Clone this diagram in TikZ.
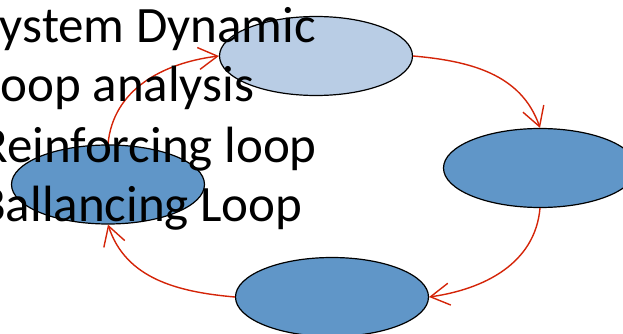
\documentclass[tikz,border=0pt]{standalone}
\usepackage{fontspec}
\setmainfont{Carlito}
\usetikzlibrary{shapes.geometric,arrows.meta}
\definecolor{lightfill}{RGB}{185,205,229}
\definecolor{midfill}{RGB}{96,150,200}
\definecolor{loopred}{RGB}{212,36,8}
\tikzset{
  state/.style={ellipse, draw=black, line width=1.2pt, minimum width=193pt, minimum height=79pt, inner sep=0pt},
  link/.style={draw=loopred, line width=1.4pt, -{Straight Barb[length=19pt,width=22pt,line width=1.4pt]}},
  bullettext/.style={anchor=base west, inner sep=0pt, font=\fontsize{51}{60}\selectfont}
}
\begin{document}
\begin{tikzpicture}[x=1pt,y=1pt]
\useasboundingbox (0,0) rectangle (623,-334);
\clip (0,0) rectangle (623,-334);
\node[state, fill=lightfill] (tp) at (316,-56) {};
\node[state, fill=midfill] (rt) at (540,-168) {};
\node[state, fill=midfill] (bt) at (332,-297) {};
\node[state, fill=midfill] (lf) at (108,-184.5) {};
\draw[link] (lf.north) to[out=85,in=187] (tp.west);
\draw[link] (tp.east) to[out=-5,in=109] (rt.north);
\draw[link] (rt.south) to[out=-95,in=8] (bt.east);
\draw[link] (bt.west) to[out=175,in=-72] (lf.south);
\node[bullettext] (t1) at (-23,-43) {System Dynamic};
\node[bullettext] (t2) at (-21,-102) {Loop analysis};
\node[bullettext] (t3) at (-20,-162) {Reinforcing loop};
\node[bullettext] (t4) at (-22,-221) {Ballancing Loop};
\end{tikzpicture}
\end{document}
